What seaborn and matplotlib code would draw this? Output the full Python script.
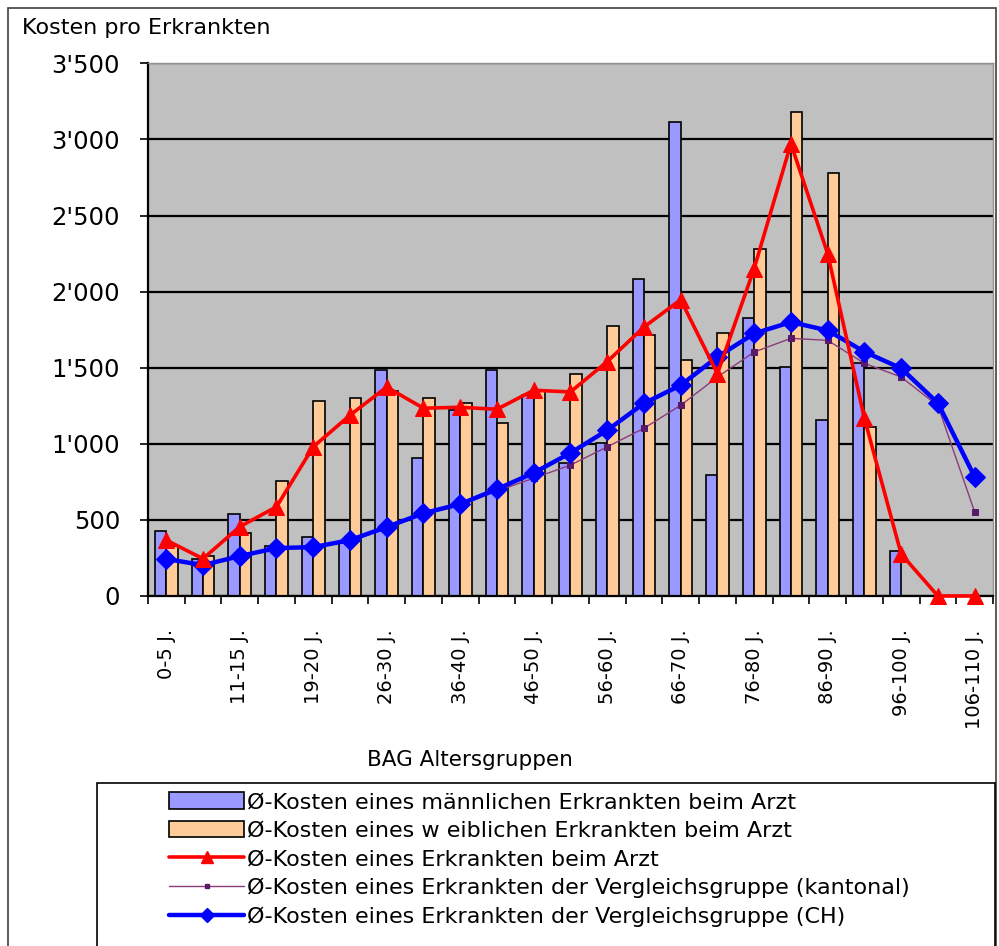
import numpy as np
import pandas as pd
import matplotlib
matplotlib.use("Agg")
import matplotlib.pyplot as plt
from matplotlib.patches import Patch, Rectangle
from matplotlib.lines import Line2D
import seaborn as sns

# ---------------- data ----------------
groups = ["0-5 J.", "6-10 J.", "11-15 J.", "16-18 J.", "19-20 J.", "21-25 J.",
          "26-30 J.", "31-35 J.", "36-40 J.", "41-45 J.", "46-50 J.", "51-55 J.",
          "56-60 J.", "61-65 J.", "66-70 J.", "71-75 J.", "76-80 J.", "81-85 J.",
          "86-90 J.", "91-95 J.", "96-100 J.", "101-105 J.", "106-110 J."]
male = [426, 240, 538, 330, 390, 350, 1483, 905, 1220, 1483, 1320, 872,
        1005, 2080, 3113, 794, 1824, 1505, 1155, 1530, 297, 0, 0]
female = [330, 262, 413, 755, 1282, 1299, 1350, 1299, 1268, 1137, 1350, 1457,
          1774, 1713, 1549, 1725, 2283, 3178, 2778, 1109, 0, 0, 0]
arzt = [367, 245, 455, 586, 980, 1188, 1373, 1234, 1240, 1227, 1352, 1341,
        1540, 1767, 1947, 1461, 2152, 2972, 2250, 1168, 276, 0, 0]
kantonal = [240, 200, 258, 310, 318, 362, 445, 535, 595, 690, 774, 860,
            980, 1102, 1253, 1439, 1603, 1693, 1680, 1529, 1439, 1250, 553]
ch = [243, 203, 262, 315, 321, 367, 453, 544, 604, 702, 809, 940,
      1089, 1266, 1385, 1571, 1725, 1800, 1745, 1605, 1496, 1268, 783]
yticks = [0, 500, 1000, 1500, 2000, 2500, 3000, 3500]
yticklabels = ["0", "500", "1'000", "1'500", "2'000", "2'500", "3'000", "3'500"]

lab_m = "Ø-Kosten eines männlichen Erkrankten beim Arzt"
lab_w = "Ø-Kosten eines w eiblichen Erkrankten beim Arzt"
lab_arzt = "Ø-Kosten eines Erkrankten beim Arzt"
lab_kant = "Ø-Kosten eines Erkrankten der Vergleichsgruppe (kantonal)"
lab_ch = "Ø-Kosten eines Erkrankten der Vergleichsgruppe (CH)"

df = pd.DataFrame({
    "Gruppe": groups * 2,
    "Geschlecht": ["m"] * len(groups) + ["w"] * len(groups),
    "Kosten": male + female,
})

# ---------------- style ----------------
sns.set_theme(style="white")
plt.rcParams["font.family"] = ["DejaVu Sans"]
plt.rcParams["text.color"] = "black"
plt.rcParams["xtick.color"] = "black"
plt.rcParams["ytick.color"] = "black"

C_M = "#9999FF"
C_W = "#FFCC99"
C_RED = "#FF0000"
C_KANT = "#8B3A7A"
C_KANT_M = "#5A1A6A"
C_CH = "#0000FF"

fig = plt.figure(figsize=(9.99, 9.46), dpi=100)
ax = fig.add_axes([0.148, 0.370, 0.846, 0.563])
ax.set_facecolor("#C0C0C0")

sns.barplot(data=df, x="Gruppe", y="Kosten", hue="Geschlecht",
            hue_order=["m", "w"], palette={"m": C_M, "w": C_W},
            order=groups, width=0.62, edgecolor="black", linewidth=1.2,
            saturation=1, legend=False, ax=ax, zorder=2)

xs = np.arange(len(groups))
sns.lineplot(x=xs, y=kantonal, ax=ax, color=C_KANT, lw=1.0, marker="s",
             markersize=4, markerfacecolor=C_KANT_M, markeredgecolor=C_KANT_M,
             zorder=4)
sns.lineplot(x=xs, y=ch, ax=ax, color=C_CH, lw=3.2, marker="D",
             markersize=10, markeredgecolor=C_CH, zorder=5)
sns.lineplot(x=xs, y=arzt, ax=ax, color=C_RED, lw=2.6, marker="^",
             markersize=12, markeredgecolor=C_RED, zorder=6, clip_on=False)

ax.set_xlim(-0.5, len(groups) - 0.5)
ax.set_ylim(0, 3500)
ax.set_axisbelow(True)
ax.yaxis.grid(True, color="black", lw=1.6)
ax.xaxis.grid(False)

ax.set_yticks(yticks)
ax.set_yticklabels(yticklabels, fontsize=17.5)
ax.tick_params(axis="y", which="major", length=6, width=1.2, color="black",
               labelcolor="black", direction="out", left=True, pad=14)

ax.set_xticks(xs[::2])
ax.set_xticklabels(groups[::2], rotation=90, fontsize=14)
ax.tick_params(axis="x", which="major", length=0, pad=24, labelcolor="black")
ax.set_xticks(np.arange(-0.5, len(groups)), minor=True)
ax.tick_params(axis="x", which="minor", length=6, width=1.2, color="black",
               direction="out", bottom=True)

ax.set_xlabel("")
ax.set_ylabel("")
for side in ["top", "right"]:
    ax.spines[side].set_color("#909090")
    ax.spines[side].set_linewidth(1)
for side in ["left", "bottom"]:
    ax.spines[side].set_color("black")
    ax.spines[side].set_linewidth(1.6)

fig.text(0.022, 0.970, "Kosten pro Erkrankten", fontsize=16, ha="left", va="center",
         color="black")
fig.text(0.470, 0.197, "BAG Altersgruppen", fontsize=15.5, ha="center", va="center",
         color="black")

# outer frame
fig.add_artist(Rectangle((0.008, -0.05), 0.989, 1.042, transform=fig.transFigure,
                         fill=False, edgecolor="#404040", lw=1.2))
# legend box
fig.add_artist(Rectangle((0.097, -0.02), 0.899, 0.192, transform=fig.transFigure,
                         fill=False, edgecolor="black", lw=1.2))

handles = [
    Patch(facecolor=C_M, edgecolor="black", lw=1.2, label=lab_m),
    Patch(facecolor=C_W, edgecolor="black", lw=1.2, label=lab_w),
    Line2D([], [], color=C_RED, lw=2.6, marker="^", markersize=9, label=lab_arzt),
    Line2D([], [], color=C_KANT, lw=1.0, marker="s", markersize=3,
           markerfacecolor=C_KANT_M, markeredgecolor=C_KANT_M, label=lab_kant),
    Line2D([], [], color=C_CH, lw=3.2, marker="D", markersize=7, label=lab_ch),
]
leg = fig.legend(handles=handles, loc="upper left", bbox_to_anchor=(0.160, 0.172),
                 frameon=False, fontsize=16, handlelength=3.4, handleheight=0.75,
                 handletextpad=0.1, labelspacing=0.38, borderaxespad=0)
for t in leg.get_texts():
    t.set_color("black")

fig.savefig("out.png", dpi=100)
